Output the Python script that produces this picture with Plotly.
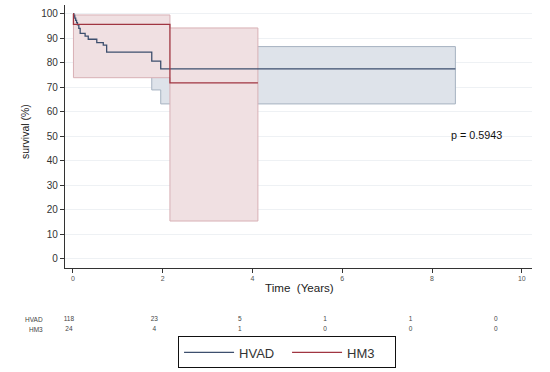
import plotly.graph_objects as go

# ---- data ----
hvad_t = [0, 0.02, 0.04, 0.06, 0.08, 0.10, 0.13, 0.16, 0.27, 0.34, 0.53, 0.675, 0.75, 1.755, 1.955]
hvad_s = [100, 99.2, 98.3, 97.4, 96.5, 95.6, 94.1, 92.1, 91.0, 89.7, 88.3, 87.3, 84.4, 80.8, 77.6]
hvad_lo = [100, 94.3, 93.0, 91.8, 90.6, 89.5, 87.6, 85.2, 83.8, 82.2, 80.6, 79.4, 76.0, 69.0, 63.3]
hvad_hi = [100, 99.9, 99.6, 99.2, 98.7, 98.2, 97.3, 96.0, 95.3, 94.5, 93.6, 92.9, 90.9, 88.8, 86.7]
hvad_end = 8.52

hm3_t = [0, 0.01, 2.16]
hm3_s = [100, 95.8, 71.9]
hm3_lo = [100, 74.0, 15.5]
hm3_hi = [100, 99.6, 94.3]
hm3_end = 4.12

risk_times = [0, 2, 4, 6, 8, 10]
hvad_risk = [118, 23, 5, 1, 1, 0]
hm3_risk = [24, 4, 1, 0, 0, 0]
risk_rows = ["HVAD", "HM3"]

x_ticks = [0, 2, 4, 6, 8, 10]
y_ticks = [0, 10, 20, 30, 40, 50, 60, 70, 80, 90, 100]
p_text = "p = 0.5943"

# ---- colours ----
HVAD_LINE = "#3d4f6e"
HM3_LINE = "#a03541"
HVAD_FILL = "#dee3ea"
HVAD_EDGE = "#a6b2c1"
HM3_FILL = "#f0e0e2"
HM3_EDGE = "#d8b0b5"
FONT = "Liberation Sans, Arial, sans-serif"


def step(t, v, t_end):
    xs, ys = [], []
    for i in range(len(t)):
        nxt = t[i + 1] if i + 1 < len(t) else t_end
        xs += [t[i], nxt]
        ys += [v[i], v[i]]
    return xs, ys


def band(t, lo, hi, t_end):
    xu, yu = step(t, hi, t_end)
    xl, yl = step(t, lo, t_end)
    return xu + xl[::-1] + [xu[0]], yu + yl[::-1] + [yu[0]]


fig = go.Figure()

bx, by = band(hvad_t, hvad_lo, hvad_hi, hvad_end)
fig.add_trace(go.Scatter(x=bx, y=by, mode="lines", fill="toself", fillcolor=HVAD_FILL,
                         line=dict(color=HVAD_EDGE, width=1), showlegend=False, hoverinfo="skip"))
bx, by = band(hm3_t, hm3_lo, hm3_hi, hm3_end)
fig.add_trace(go.Scatter(x=bx, y=by, mode="lines", fill="toself", fillcolor=HM3_FILL,
                         line=dict(color=HM3_EDGE, width=1), showlegend=False, hoverinfo="skip"))

sx, sy = step(hvad_t, hvad_s, hvad_end)
fig.add_trace(go.Scatter(x=sx, y=sy, mode="lines", name="HVAD",
                         line=dict(color=HVAD_LINE, width=1.3)))
sx, sy = step(hm3_t, hm3_s, hm3_end)
fig.add_trace(go.Scatter(x=sx, y=sy, mode="lines", name="HM3",
                         line=dict(color=HM3_LINE, width=1.3)))

# number-at-risk table as a text subplot
for row, vals in zip(risk_rows, (hvad_risk, hm3_risk)):
    fig.add_trace(go.Scatter(x=risk_times, y=[row] * len(risk_times), text=[str(v) for v in vals],
                             mode="text", textfont=dict(size=6.5, color="#444"),
                             xaxis="x2", yaxis="y2", showlegend=False, hoverinfo="skip",
                             cliponaxis=False))

annotations = []
for row in risk_rows:
    annotations.append(dict(x=-0.0428, y=row, xref="paper", yref="y2", text=row,
                            showarrow=False, font=dict(size=6.5, color="#444"),
                            xanchor="right", yanchor="middle"))

annotations.append(dict(x=9.0, y=50.6, xref="x", yref="y", text=p_text, showarrow=False,
                        font=dict(size=10.8, color="#111"), xanchor="center", yanchor="middle"))
annotations.append(dict(x=0.503, y=0.2247, xref="paper", yref="paper", text="Time\u00a0 (Years)",
                        showarrow=False, font=dict(size=11.6, color="#222"),
                        xanchor="center", yanchor="middle"))
annotations.append(dict(x=-0.0857, y=0.6548, xref="paper", yref="paper", text="survival (%)",
                        textangle=-90, showarrow=False, font=dict(size=10.5, color="#222"),
                        xanchor="center", yanchor="middle"))

fig.update_layout(
    width=550, height=372,
    margin=dict(l=65, r=18, t=5, b=2),
    paper_bgcolor="white", plot_bgcolor="white",
    font=dict(family=FONT, color="#333"),
    xaxis=dict(domain=[0, 1], range=[-0.178, 10.227], tickvals=x_ticks, ticks="outside", ticklen=4,
               tickcolor="#333", showline=True, linecolor="#333", linewidth=1.3,
               showgrid=False, zeroline=False, tickfont=dict(size=7, color="#555"),
               anchor="y"),
    yaxis=dict(domain=[0.2803, 1], range=[-3.55, 103.67], tickvals=y_ticks, ticks="outside",
               ticklen=4, tickcolor="#333", showline=True, linecolor="#333", linewidth=1.3,
               showgrid=True, gridcolor="#eef1f4", gridwidth=1, zeroline=False,
               tickfont=dict(size=10, color="#333"), anchor="x"),
    xaxis2=dict(domain=[0, 1], range=[-0.0913, 10.845], visible=False, anchor="y2"),
    yaxis2=dict(domain=[0.1115, 0.1397], type="category", categoryorder="array",
                categoryarray=risk_rows[::-1], range=[-0.0, 1.0], visible=False, anchor="x2"),
    legend=dict(orientation="h", x=0.4755, y=0.0918, xanchor="center", yanchor="top",
                bordercolor="#111", borderwidth=1, bgcolor="white",
                font=dict(size=13, color="#333"), itemwidth=50,
                entrywidth=43, entrywidthmode="pixels"),
    annotations=annotations,
    showlegend=True,
)

fig.write_html("out.html", config={"displayModeBar": False},
               post_script="document.body.style.margin='0';")
